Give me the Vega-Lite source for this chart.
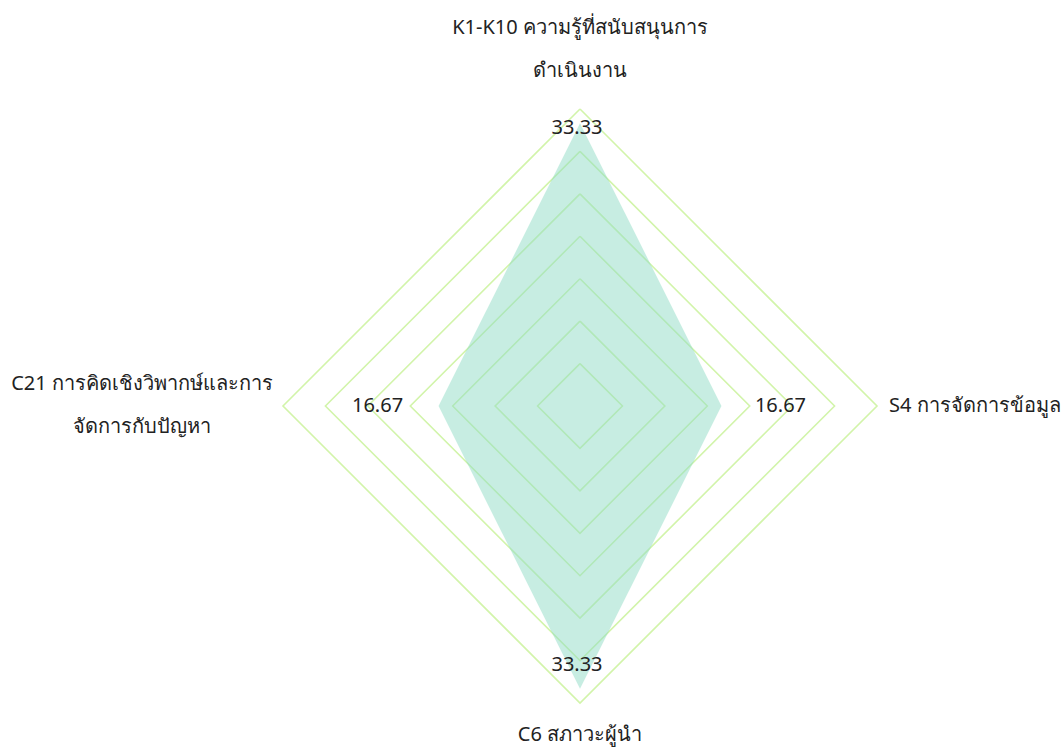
{
  "$schema": "https://vega.github.io/schema/vega-lite/v6.json",
  "width": 594,
  "height": 594,
  "autosize": {"type": "none"},
  "padding": {"left": 283, "top": 109, "right": 184, "bottom": 46},
  "background": "white",
  "config": {"view": {"stroke": null}, "font": "Noto Sans"},
  "datasets": {
    "radar": [
      {"axis": "K1-K10 ความรู้ที่สนับสนุนการ\nดำเนินงาน", "i": 0, "value": 33.33},
      {"axis": "S4 การจัดการข้อมูล", "i": 1, "value": 16.67},
      {"axis": "C6 สภาวะผู้นำ", "i": 2, "value": 33.33},
      {"axis": "C21 การคิดเชิงวิพากษ์และการ\nจัดการกับปัญหา", "i": 3, "value": 16.67}
    ],
    "grid": [
      {"level": 5, "i": 0}, {"level": 5, "i": 1}, {"level": 5, "i": 2}, {"level": 5, "i": 3}, {"level": 5, "i": 4},
      {"level": 10, "i": 0}, {"level": 10, "i": 1}, {"level": 10, "i": 2}, {"level": 10, "i": 3}, {"level": 10, "i": 4},
      {"level": 15, "i": 0}, {"level": 15, "i": 1}, {"level": 15, "i": 2}, {"level": 15, "i": 3}, {"level": 15, "i": 4},
      {"level": 20, "i": 0}, {"level": 20, "i": 1}, {"level": 20, "i": 2}, {"level": 20, "i": 3}, {"level": 20, "i": 4},
      {"level": 25, "i": 0}, {"level": 25, "i": 1}, {"level": 25, "i": 2}, {"level": 25, "i": 3}, {"level": 25, "i": 4},
      {"level": 30, "i": 0}, {"level": 30, "i": 1}, {"level": 30, "i": 2}, {"level": 30, "i": 3}, {"level": 30, "i": 4},
      {"level": 35, "i": 0}, {"level": 35, "i": 1}, {"level": 35, "i": 2}, {"level": 35, "i": 3}, {"level": 35, "i": 4}
    ]
  },
  "resolve": {"scale": {"x": "shared", "y": "shared"}},
  "layer": [
    {
      "data": {"name": "grid"},
      "transform": [
        {"calculate": "datum.level * sin(datum.i * PI / 2)", "as": "x"},
        {"calculate": "datum.level * cos(datum.i * PI / 2)", "as": "y"}
      ],
      "mark": {"type": "line", "stroke": "#d2f4aa", "strokeWidth": 1.6, "clip": false},
      "encoding": {
        "x": {"field": "x", "type": "quantitative", "scale": {"domain": [-35, 35], "nice": false, "zero": false}, "axis": null},
        "y": {"field": "y", "type": "quantitative", "scale": {"domain": [-35, 35], "nice": false, "zero": false}, "axis": null},
        "detail": {"field": "level"},
        "order": {"field": "i", "type": "quantitative"}
      }
    },
    {
      "data": {"name": "radar"},
      "transform": [
        {"calculate": "datum.value * sin(datum.i * PI / 2)", "as": "x"},
        {"calculate": "datum.value * cos(datum.i * PI / 2)", "as": "y"}
      ],
      "layer": [
        {
          "mark": {"type": "line", "interpolate": "linear-closed", "fill": "#8fdcc5", "fillOpacity": 0.5, "stroke": null, "strokeWidth": 0, "clip": false},
          "encoding": {
            "x": {"field": "x", "type": "quantitative"},
            "y": {"field": "y", "type": "quantitative"},
            "order": {"field": "i", "type": "quantitative"}
          }
        },
        {
          "transform": [{"filter": "datum.i == 0"}],
          "mark": {"type": "text", "fontSize": 20, "color": "#222", "baseline": "middle", "dy": 5, "dx": -3},
          "encoding": {"x": {"field": "x", "type": "quantitative"}, "y": {"field": "y", "type": "quantitative"}, "text": {"field": "value", "type": "quantitative", "format": ".2f"}}
        },
        {
          "transform": [{"filter": "datum.i == 1"}],
          "mark": {"type": "text", "fontSize": 20, "color": "#222", "baseline": "middle", "dx": 59},
          "encoding": {"x": {"field": "x", "type": "quantitative"}, "y": {"field": "y", "type": "quantitative"}, "text": {"field": "value", "type": "quantitative", "format": ".2f"}}
        },
        {
          "transform": [{"filter": "datum.i == 2"}],
          "mark": {"type": "text", "fontSize": 20, "color": "#222", "baseline": "middle", "dy": -24, "dx": -3},
          "encoding": {"x": {"field": "x", "type": "quantitative"}, "y": {"field": "y", "type": "quantitative"}, "text": {"field": "value", "type": "quantitative", "format": ".2f"}}
        },
        {
          "transform": [{"filter": "datum.i == 3"}],
          "mark": {"type": "text", "fontSize": 20, "color": "#222", "baseline": "middle", "dx": -61},
          "encoding": {"x": {"field": "x", "type": "quantitative"}, "y": {"field": "y", "type": "quantitative"}, "text": {"field": "value", "type": "quantitative", "format": ".2f"}}
        }
      ]
    },
    {
      "data": {"name": "radar"},
      "transform": [
        {"calculate": "35 * sin(datum.i * PI / 2)", "as": "x"},
        {"calculate": "35 * cos(datum.i * PI / 2)", "as": "y"}
      ],
      "layer": [
        {
          "transform": [{"filter": "datum.i == 0"}],
          "mark": {"type": "text", "fontSize": 20, "color": "#222", "baseline": "middle", "align": "center", "lineBreak": "\n", "lineHeight": 43, "dy": -81},
          "encoding": {"x": {"field": "x", "type": "quantitative"}, "y": {"field": "y", "type": "quantitative"}, "text": {"field": "axis"}}
        },
        {
          "transform": [{"filter": "datum.i == 1"}],
          "mark": {"type": "text", "fontSize": 20, "color": "#222", "baseline": "middle", "align": "left", "dx": 12},
          "encoding": {"x": {"field": "x", "type": "quantitative"}, "y": {"field": "y", "type": "quantitative"}, "text": {"field": "axis"}}
        },
        {
          "transform": [{"filter": "datum.i == 2"}],
          "mark": {"type": "text", "fontSize": 20, "color": "#222", "baseline": "middle", "align": "center", "dy": 32},
          "encoding": {"x": {"field": "x", "type": "quantitative"}, "y": {"field": "y", "type": "quantitative"}, "text": {"field": "axis"}}
        },
        {
          "transform": [{"filter": "datum.i == 3"}],
          "mark": {"type": "text", "fontSize": 20, "color": "#222", "baseline": "middle", "align": "center", "lineBreak": "\n", "lineHeight": 43, "dx": -141, "dy": -22},
          "encoding": {"x": {"field": "x", "type": "quantitative"}, "y": {"field": "y", "type": "quantitative"}, "text": {"field": "axis"}}
        }
      ]
    }
  ]
}
